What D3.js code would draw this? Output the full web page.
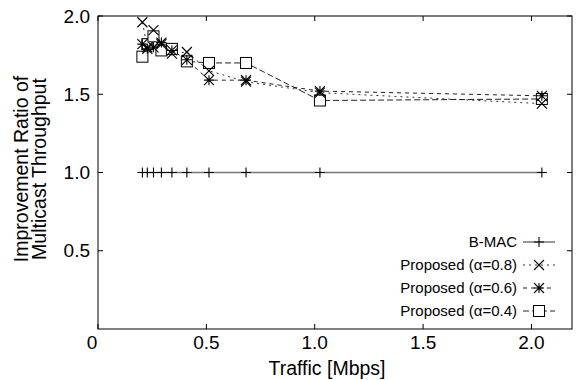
<!DOCTYPE html>
<html>
<head>
<meta charset="utf-8">
<script src="https://cdn.jsdelivr.net/npm/d3@7"></script>
<style>
  body { margin: 0; background: #fff; }
  svg { display: block; font-family: "Liberation Sans", Arial, sans-serif; }
</style>
</head>
<body>
<svg id="chart" width="576" height="380"></svg>
<script>
// traffic values [Mbps], shared by all series
var traffic = [0.2048, 0.2276, 0.256, 0.2926, 0.341, 0.41, 0.512, 0.683, 1.024, 2.048];
// improvement ratio per scheme
var bmac    = [1.0, 1.0, 1.0, 1.0, 1.0, 1.0, 1.0, 1.0, 1.0, 1.0];
var alpha08 = [1.96, 1.80, 1.91, 1.82, 1.76, 1.77, 1.65, 1.58, 1.51, 1.44];
var alpha06 = [1.82, 1.79, 1.80, 1.83, 1.78, 1.72, 1.59, 1.59, 1.52, 1.49];
var alpha04 = [1.74, 1.82, 1.87, 1.78, 1.79, 1.71, 1.70, 1.70, 1.46, 1.47];
var seriesNames = ["B-MAC", "Proposed (\u03b1=0.8)", "Proposed (\u03b1=0.6)", "Proposed (\u03b1=0.4)"];
var xTicks = [0, 0.5, 1.0, 1.5, 2.0];
var yTicks = [0.5, 1.0, 1.5, 2.0];

var series = [
  {name: seriesNames[0], values: bmac,    marker: "plus",   dash: null,  stroke: "#777"},
  {name: seriesNames[1], values: alpha08, marker: "cross",  dash: "2,4", stroke: "#333"},
  {name: seriesNames[2], values: alpha06, marker: "star",   dash: "4,4", stroke: "#222"},
  {name: seriesNames[3], values: alpha04, marker: "square", dash: "6,3", stroke: "#222"}
];

var svg = d3.select("#chart");
var margins = {top: 16, right: 4, bottom: 51, left: 98};
var width = 576, height = 380;

var x = d3.scaleLinear().domain([0, 2.187]).range([margins.left, width - margins.right]);
var y = d3.scaleLinear().domain([0, 2.0]).range([height - margins.bottom, margins.top]);

// marker paths (centred at 0,0)
function markerPath(type) {
  var s = 5;
  if (type == "plus") return "M" + (-s) + ",0H" + s + "M0," + (-s) + "V" + s;
  if (type == "cross") return "M" + (-s) + "," + (-s) + "L" + s + "," + s + "M" + (-s) + "," + s + "L" + s + "," + (-s);
  if (type == "star") return markerPath("plus") + markerPath("cross");
  return null;
}

function drawMarker(g, type, cx, cy) {
  if (type == "square") {
    g.append("rect")
      .attr("x", cx - 5.5).attr("y", cy - 5.5)
      .attr("width", 11).attr("height", 11)
      .attr("fill", "#fff").attr("stroke", "#000").attr("stroke-width", 1);
  } else {
    g.append("path")
      .attr("transform", "translate(" + cx + "," + cy + ")")
      .attr("d", markerPath(type))
      .attr("fill", "none").attr("stroke", "#000").attr("stroke-width", 1.1);
  }
}

// frame
svg.append("rect")
  .attr("x", x(0)).attr("y", y(2.0))
  .attr("width", x.range()[1] - x(0)).attr("height", y(0) - y(2.0))
  .attr("fill", "none").attr("stroke", "#000").attr("stroke-width", 1);

// inward ticks on all four sides
var tickLen = 5;
var ticksG = svg.append("g").attr("stroke", "#000").attr("stroke-width", 1);
xTicks.forEach(function(t) {
  ticksG.append("line").attr("x1", x(t)).attr("x2", x(t)).attr("y1", y(0)).attr("y2", y(0) - tickLen);
  ticksG.append("line").attr("x1", x(t)).attr("x2", x(t)).attr("y1", y(2.0)).attr("y2", y(2.0) + tickLen);
});
yTicks.forEach(function(t) {
  ticksG.append("line").attr("x1", x(0)).attr("x2", x(0) + tickLen).attr("y1", y(t)).attr("y2", y(t));
  ticksG.append("line").attr("x1", x.range()[1]).attr("x2", x.range()[1] - tickLen).attr("y1", y(t)).attr("y2", y(t));
});

// tick labels
svg.append("g").selectAll("text")
  .data(xTicks).enter().append("text")
  .attr("x", function(d) { return d == 0 ? x(d) - 6 : x(d); })
  .attr("y", 349)
  .attr("text-anchor", "middle")
  .attr("font-size", "19px")
  .text(function(d) { return d == 0 ? "0" : d.toFixed(1); });

svg.append("g").selectAll("text")
  .data(yTicks).enter().append("text")
  .attr("x", 90)
  .attr("y", function(d) { return y(d); })
  .attr("dy", "0.35em")
  .attr("text-anchor", "end")
  .attr("font-size", "19px")
  .text(function(d) { return d.toFixed(1); });

// axis titles
svg.append("text")
  .attr("x", (x(0) + x.range()[1]) / 2 - 8)
  .attr("y", 375)
  .attr("text-anchor", "middle")
  .attr("font-size", "19.5px")
  .text("Traffic [Mbps]");

var yTitle = svg.append("text")
  .attr("transform", "translate(0," + 169 + ") rotate(-90)")
  .attr("text-anchor", "middle")
  .attr("font-size", "19.5px");
yTitle.append("tspan").attr("x", 0).attr("y", 28).text("Improvement Ratio of");
yTitle.append("tspan").attr("x", 0).attr("y", 46).text("Multicast Throughput");

// lines + markers
var line = d3.line()
  .x(function(d, i) { return x(traffic[i]); })
  .y(function(d) { return y(d); });

series.forEach(function(s) {
  svg.append("path")
    .datum(s.values)
    .attr("d", line)
    .attr("fill", "none")
    .attr("stroke", s.stroke)
    .attr("stroke-width", s.dash ? 1 : 1.5)
    .attr("stroke-dasharray", s.dash);
});
// draw markers in reverse so squares sit below the crosses / stars
series.slice().reverse().forEach(function(s) {
  var g = svg.append("g");
  s.values.forEach(function(v, i) { drawMarker(g, s.marker, x(traffic[i]), y(v)); });
});

// legend
var legend = svg.append("g");
series.forEach(function(s, i) {
  var ly = 242 + i * 23;
  legend.append("text")
    .attr("x", 517).attr("y", ly)
    .attr("dy", "0.35em")
    .attr("text-anchor", "end")
    .attr("font-size", "15px")
    .text(s.name);
  legend.append("line")
    .attr("x1", 523).attr("x2", 555)
    .attr("y1", ly).attr("y2", ly)
    .attr("stroke", s.stroke)
    .attr("stroke-width", s.dash ? 1 : 1.5)
    .attr("stroke-dasharray", s.dash);
  drawMarker(legend, s.marker, 539, ly);
});
</script>
</body>
</html>
